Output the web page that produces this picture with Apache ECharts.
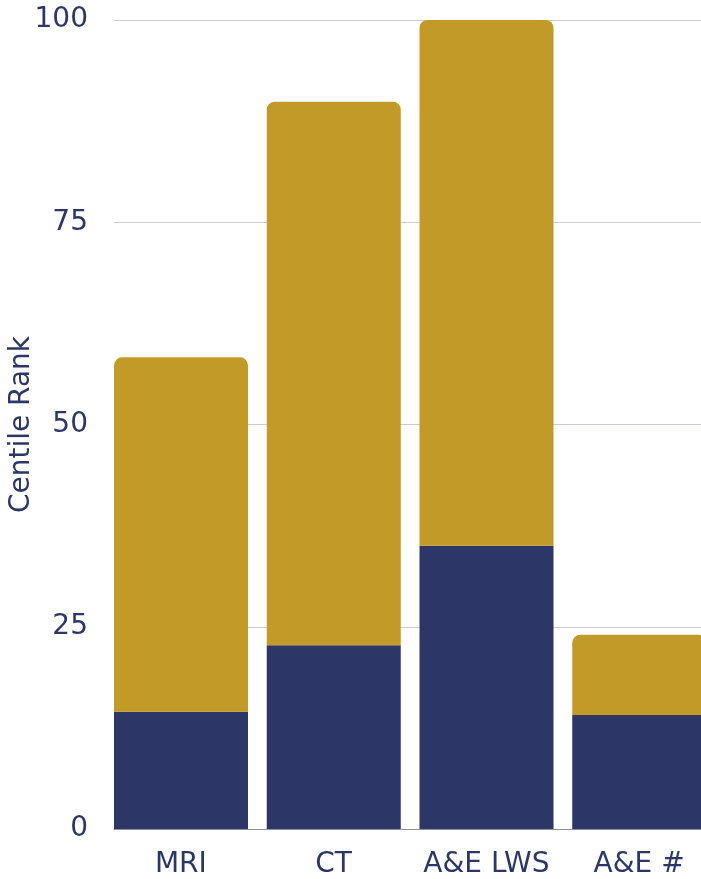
<!DOCTYPE html>
<html>
<head>
<meta charset="utf-8">
<script src="https://cdn.jsdelivr.net/npm/echarts@6/dist/echarts.min.js"></script>
<style>
html,body{margin:0;padding:0;background:#fff;}
#chart{width:701px;height:879px;}
</style>
</head>
<body>
<div id="chart"></div>
<script>
const categories = ['MRI', 'CT', 'A&E LWS', 'A&E #'];
const lowerValues = [14.5, 22.7, 35.0, 14.1];
const totalValues = [58.3, 89.9, 100, 24.0];
const yTicks = { min: 0, max: 100, interval: 25 };
const yAxisName = 'Centile Rank';

const upperValues = totalValues.map((t, i) => +(t - lowerValues[i]).toFixed(2));
const spacer = categories.map(() => '-');

const textColor = '#2C3768';
const font = 'DejaVu Sans';

const chart = echarts.init(document.getElementById('chart'), null, { renderer: 'canvas' });
chart.setOption({
  animation: false,
  grid: { left: 114, top: 20, bottom: 50, width: 611, containLabel: false, outerBoundsMode: 'none' },
  xAxis: {
    type: 'category',
    data: categories,
    axisTick: { show: false },
    axisLine: { show: true, lineStyle: { color: '#8A8FA5', width: 1 } },
    axisLabel: {
      color: textColor, fontSize: 28, fontFamily: font, margin: 22,
      interval: 0, hideOverlap: false,
      padding: [0, 19, 0, 0]
    }
  },
  yAxis: {
    type: 'value',
    min: yTicks.min, max: yTicks.max, interval: yTicks.interval,
    name: yAxisName,
    nameLocation: 'middle',
    nameGap: 78,
    nameMoveOverlap: false,
    nameTextStyle: { color: textColor, fontSize: 28, fontFamily: font },
    axisLine: { show: false },
    axisTick: { show: false },
    axisLabel: { color: textColor, fontSize: 28, fontFamily: font, margin: 26, padding: [12, 0, 0, 0] },
    splitLine: { lineStyle: { color: '#CBCBE0', width: 1 } }
  },
  series: [
    {
      type: 'bar', stack: 'a', data: lowerValues, barWidth: 134,
      itemStyle: { color: '#2C3768' }
    },
    {
      type: 'bar', stack: 'a', data: upperValues, barWidth: 134,
      itemStyle: { color: '#C19A28', borderRadius: [8, 8, 0, 0] }
    },
    {
      type: 'bar', stack: 'b', data: spacer, barWidth: 18.75,
      barGap: '0%', barCategoryGap: '0%',
      itemStyle: { color: 'rgba(0,0,0,0)' }
    }
  ]
});
</script>
</body>
</html>
